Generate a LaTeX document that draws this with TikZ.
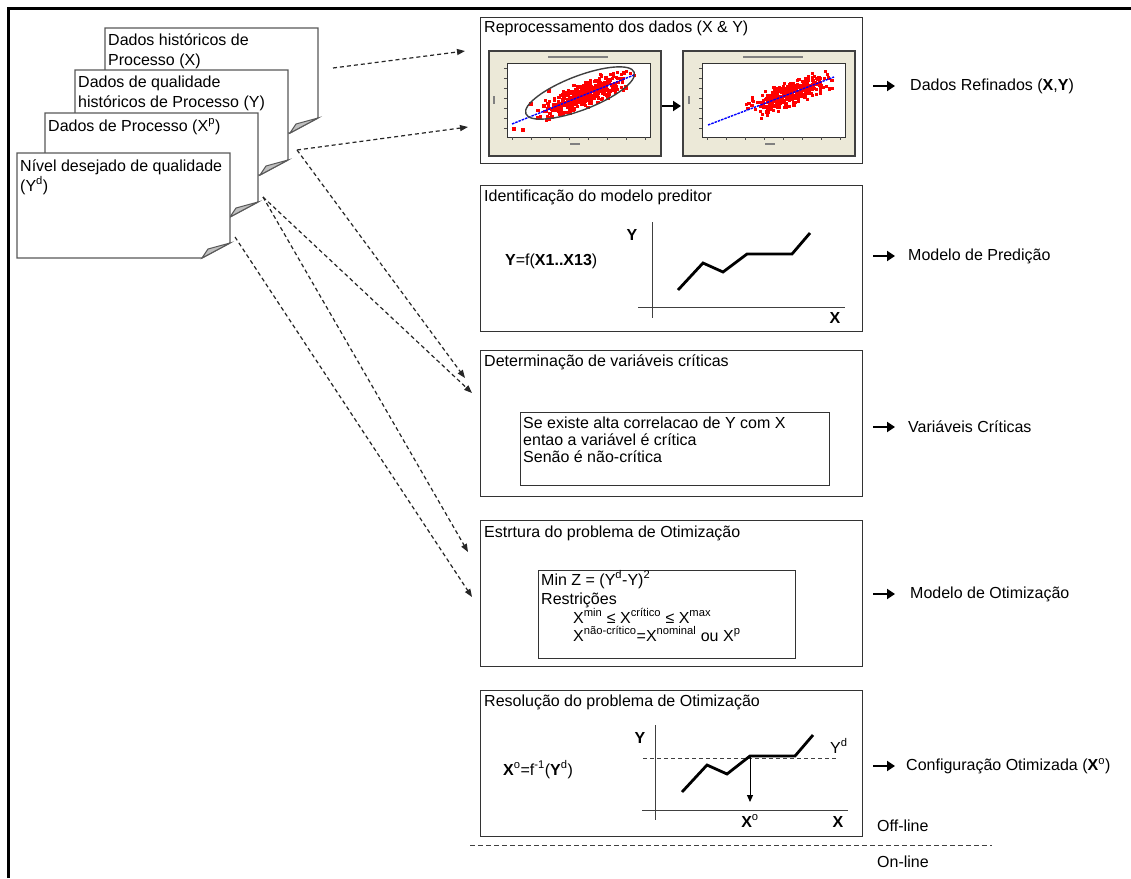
\documentclass[tikz,border=0pt]{standalone}
\usepackage{fontspec}
\setmainfont{Liberation Sans}
\usetikzlibrary{arrows.meta}
\definecolor{beige}{RGB}{236,233,216}
\begin{document}
\begin{tikzpicture}[x=1pt,y=-1pt,
 box/.style={draw=black!80, line width=1.3, anchor=north west, inner sep=0, minimum width=382, minimum height=146},
 inbox/.style={draw=black!80, line width=1.3, anchor=north west, inner sep=0},
 plotframe/.style={draw=black!75, fill=beige, line width=2, anchor=north west, inner sep=0, minimum width=172, minimum height=105},
 plotarea/.style={draw=black!80, fill=white, line width=0.6, anchor=north west, inner sep=0, minimum width=143, minimum height=74},
 txt/.style={anchor=base west, inner sep=0, font=\fontsize{16}{19}\selectfont},
 lbl/.style={anchor=base, inner sep=0, font=\bfseries\fontsize{16}{19}\selectfont},
 conn/.style={draw=black!85, line width=1.2, dash pattern=on 4pt off 3pt, -{Triangle[length=8pt,width=6pt]}},
 outarrow/.style={line width=2.6, -{Triangle[length=8pt,width=10pt]}},
 curve/.style={line width=2.8, line join=miter},
 axis/.style={line width=1, draw=black!75},
 docline/.style={draw=black!65, line width=1.3, fill=white},
 fold/.style={draw=black!65, line width=1, fill=black!25},
]
\useasboundingbox (0,0) rectangle (1131,878);
\fill[white] (0,0) rectangle (1131,878);
% outer frame
\draw[line width=3] (8,878) -- (8,8) -- (1131,8);

% documents (back to front)
\newcommand\pagedoc[4]{%
 \draw[docline] (#1,#2) -- (#3,#2) -- (#3,#4-15) -- (#3-28,#4) -- (#1,#4) -- cycle;
 \draw[fold] (#3-28,#4) -- (#3-22,#4-9) -- (#3,#4-15) -- cycle;}
\pagedoc{105}{28}{318}{133}
\node[txt] (d1a) at (108,45) {Dados históricos de};
\node[txt] (d1b) at (108,65) {Processo (X)};
\pagedoc{75}{70}{288}{175}
\node[txt] (d2a) at (78,87) {Dados de qualidade};
\node[txt] (d2b) at (78,107) {históricos de Processo (Y)};
\pagedoc{45}{113}{258}{217}
\node[txt] (d3a) at (48,131) {Dados de Processo (X\textsuperscript{p})};
\pagedoc{17}{153}{230}{258}
\node[txt] (d4a) at (20,171) {Nível desejado de qualidade};
\node[txt] (d4b) at (20,191) {(Y\textsuperscript{d})};

% right boxes
\node[box] (b1) at (480,17) {};
\node[box] (b2) at (480,185) {};
\node[box] (b3) at (480,350) {};
\node[box] (b4) at (480,520) {};
\node[box] (b5) at (480,690) {};
\node[txt] (t1) at (484,32) {Reprocessamento dos dados (X \& Y)};
\node[txt] (t2) at (484,201) {Identificação do modelo preditor};
\node[txt] (t3) at (484,366) {Determinação de variáveis críticas};
\node[txt] (t4) at (484,537) {Estrtura do problema de Otimização};
\node[txt] (t5) at (484,706) {Resolução do problema de Otimização};

% scatter plots
\node[plotframe] (p1) at (488,50) {};
\node[plotarea] (a1) at (507,63) {};
\node[plotframe] (p2) at (682,50) {};
\node[plotarea] (a2) at (702,63) {};
\foreach \ox in {0,195}{
 \foreach \k in {0,...,6}{\draw[black!70, line width=0.5] (507+\ox,68+10*\k) -- ++(-3,0);}
 \foreach \k in {0,...,7}{\draw[black!70, line width=0.5] (512+\ox+19*\k,137) -- ++(0,3);}
 \fill[black!50] (548+\ox,56) rectangle ++(60,1.6);
 \fill[black!50] (570+\ox,143) rectangle ++(10,1.6);
 \fill[black!50] (493+\ox,96) rectangle ++(1.6,8);
}
\begin{scope}
 \clip (508,64) rectangle (649,136);
 \pgfmathsetseed{11}
 \foreach \i in {1,...,340}{
  \pgfmathsetmacro{\myt}{0.6+0.2*(rand+rand)}
  \pgfmathsetmacro{\px}{513+119*\myt+6*rand}
  \pgfmathsetmacro{\py}{124-48*\myt+7*(rand+rand)}
  \fill[red] (\px-1.6,\py-1.6) rectangle ++(3.2,3.2);
 }
 \foreach \q in {(514,129),(523,130),(538,118),(531,104),(555,110),(549,91),(544,106),(560,114)}{\fill[red] \q ++(-1.6,-1.6) rectangle ++(3.2,3.2);}
 \draw[blue, line width=1.4, dash pattern=on 2.5pt off 1pt] (512,124) -- (634,75);
\end{scope}
\draw[black!75, line width=1.4, rotate around={21:(580,93)}] (580,93) ellipse [x radius=58, y radius=17];
\begin{scope}
 \clip (703,64) rectangle (844,136);
 \pgfmathsetseed{23}
 \foreach \i in {1,...,320}{
  \pgfmathsetmacro{\myt}{0.66+0.17*(rand+rand)}
  \pgfmathsetmacro{\px}{708+124*\myt+6*rand}
  \pgfmathsetmacro{\py}{125-47*\myt+7*(rand+rand)}
  \fill[red] (\px-1.6,\py-1.6) rectangle ++(3.2,3.2);
 }
 \draw[blue, line width=1.4, dash pattern=on 2.5pt off 1pt] (708,125) -- (834,77);
\end{scope}
\coordinate (pa) at (662,106);
\coordinate (pb) at (681,106);
\draw[outarrow] (pa) -- (pb);

% box 2 content
\node[txt] (f2) at (505,265) {\textbf{Y}=f(\textbf{X1..X13})};
\draw[axis] (652,222) -- (652,318);
\draw[axis] (638,307) -- (845,307);
\draw[curve] (678,290) -- (703,263) -- (723,272) -- (747,254) -- (792,254) -- (810,233);
\node[lbl] (y2) at (632,240) {Y};
\node[lbl] (x2) at (835,323) {X};

% box 3 content
\node[inbox, minimum width=309, minimum height=73] (ib3) at (520,412) {};
\node[txt] (s1) at (523,428) {Se existe alta correlacao de Y com X};
\node[txt] (s2) at (523,445) {entao a variável é crítica};
\node[txt] (s3) at (523,462) {Senão é não-crítica};

% box 4 content
\node[inbox, minimum width=257, minimum height=88] (ib4) at (538,570) {};
\node[txt] (m1) at (541,585) {Min Z = (Y\textsuperscript{d}-Y)\textsuperscript{2}};
\node[txt] (m2) at (541,604) {Restrições};
\node[txt] (m3) at (573,623) {X\textsuperscript{min} ≤ X\textsuperscript{crítico} ≤ X\textsuperscript{max}};
\node[txt] (m4) at (573,641) {X\textsuperscript{não-crítico}=X\textsuperscript{nominal} ou X\textsuperscript{p}};

% box 5 content
\node[txt] (f5) at (503,775) {\textbf{X}\textsuperscript{o}=f\textsuperscript{-1}(\textbf{Y}\textsuperscript{d})};
\draw[axis] (655,725) -- (655,820);
\draw[axis] (642,810) -- (848,810);
\draw[black!75, line width=1, dash pattern=on 4pt off 3pt] (643,758) -- (837,758);
\draw[curve] (682,792) -- (707,765) -- (727,774) -- (750,756) -- (795,756) -- (813,735);
\coordinate (xo1) at (750,757);
\coordinate (xo2) at (750,802);
\draw[line width=1, -{Triangle[length=7pt,width=6pt]}] (xo1) -- (xo2);
\node[lbl] (y5) at (640,743) {Y};
\node[lbl] (x5) at (838,827) {X};
\node[lbl] (xo) at (750,827) {X\textsuperscript{\mdseries o}};
\node[txt] (yd) at (830,753) {Y\textsuperscript{d}};

% off-line / on-line
\coordinate (sepa) at (470,845);
\coordinate (sepb) at (992,845);
\draw[black!75, line width=1, dash pattern=on 5pt off 3pt] (sepa) -- (sepb);
\node[txt] (off) at (877,831) {Off-line};
\node[txt] (on) at (877,867) {On-line};

% outputs
\foreach \yy/\nm in {86/o1,256/o2,427/o3,594/o4,766/o5}{
 \coordinate (\nm s) at (873,\yy);
 \coordinate (\nm e) at (895,\yy);
 \draw[outarrow] (\nm s) -- (\nm e);
}
\node[txt, anchor=west] (r1) at (910,86) {Dados Refinados (\textbf{X},\textbf{Y})};
\node[txt, anchor=west] (r2) at (908,256) {Modelo de Predição};
\node[txt, anchor=west] (r3) at (908,427) {Variáveis Críticas};
\node[txt, anchor=west] (r4) at (910,594) {Modelo de Otimização};
\node[txt, anchor=west] (r5) at (906,766) {Configuração Otimizada (\textbf{X}\textsuperscript{o})};

% dashed connectors
\coordinate (c1s) at (333,68);  \coordinate (c1e) at (465,51);
\coordinate (c2s) at (297,150); \coordinate (c2e) at (468,127);
\coordinate (c3e) at (465,378);
\coordinate (c4s) at (263,197); \coordinate (c4e) at (472,393);
\coordinate (c5e) at (468,552);
\coordinate (c6s) at (235,237); \coordinate (c6e) at (472,597);
\draw[conn] (c1s) -- (c1e);
\draw[conn] (c2s) -- (c2e);
\draw[conn] (c2s) -- (c3e);
\draw[conn] (c4s) -- (c4e);
\draw[conn] (c4s) -- (c5e);
\draw[conn] (c6s) -- (c6e);
\end{tikzpicture}
\end{document}
